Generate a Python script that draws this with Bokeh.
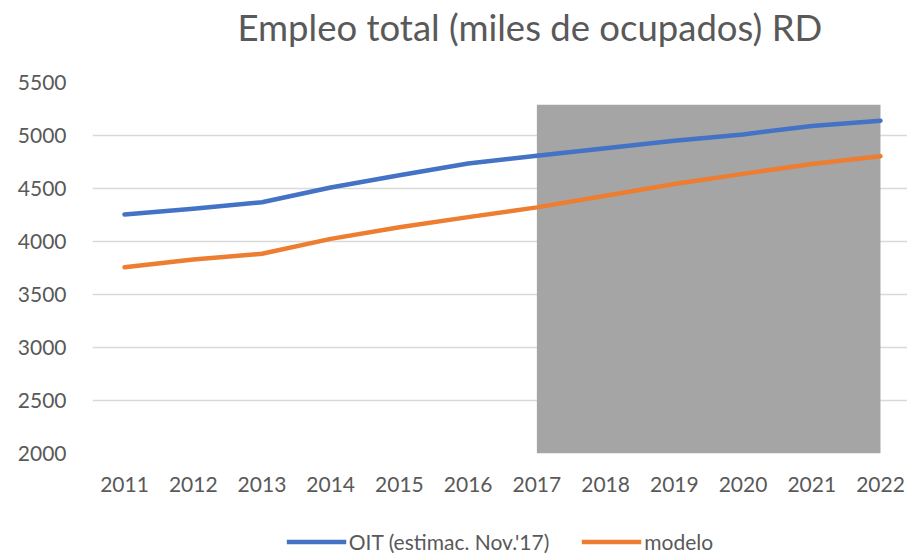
from bokeh.plotting import figure
from bokeh.layouts import column
from bokeh.models import Range1d, FixedTicker, Legend, LegendItem, Label
from bokeh.embed import file_html
from bokeh.resources import INLINE

years = [2011, 2012, 2013, 2014, 2015, 2016, 2017, 2018, 2019, 2020, 2021, 2022]
oit = [4255, 4310, 4370, 4510, 4625, 4735, 4810, 4880, 4950, 5010, 5090, 5140]
modelo = [3758, 3830, 3884, 4025, 4135, 4230, 4322, 4432, 4542, 4638, 4732, 4805]
y_ticks = [2000, 2500, 3000, 3500, 4000, 4500, 5000, 5500]
shade_start = 2017
shade_end = 2022
shade_top = 5290
y_min = 2000
y_max = 5500
title_text = "Empleo total (miles de ocupados) RD"

FONT = "Lato"
GREY_TXT = "#595959"
BLUE = "#4472C4"
ORANGE = "#ED7D31"
LEFT = 92
FW = 815


def strip(h, top_border, xr, yr):
    f = figure(frame_width=FW, frame_height=h, output_backend="svg", toolbar_location=None,
               title=None, x_range=xr, y_range=yr,
               x_axis_location=None, y_axis_location=None,
               min_border_left=LEFT, min_border_right=0, min_border_top=top_border,
               min_border_bottom=0)
    f.outline_line_color = None
    f.grid.visible = False
    f.background_fill_color = "white"
    f.border_fill_color = "white"
    return f


# title strip (x data units = pixels of the page)
top = strip(62, 0, Range1d(LEFT, LEFT + FW), Range1d(0, 62))
top.add_layout(Label(x=237, y=36, text=title_text,
                     text_font=FONT, text_font_size="36.5px", text_color=GREY_TXT,
                     text_baseline="alphabetic", text_align="left"))

# main chart
p = figure(frame_width=FW, frame_height=371, output_backend="svg", toolbar_location=None,
           title=None, x_range=Range1d(2010.534, 2022.393), y_range=Range1d(y_min, y_max),
           min_border_left=LEFT, min_border_right=0, min_border_top=20, min_border_bottom=57)
p.outline_line_color = None
p.background_fill_color = "white"
p.border_fill_color = "white"

p.quad(left=[shade_start], right=[shade_end], bottom=[y_min], top=[shade_top],
       fill_color="#A5A5A5", line_color=None)

p.line(years, oit, line_color=BLUE, line_width=4.5, line_cap="round", line_join="round")
p.line(years, modelo, line_color=ORANGE, line_width=4.5, line_cap="round", line_join="round")

p.xgrid.visible = False
p.ygrid.grid_line_color = "#D9D9D9"
p.ygrid.grid_line_width = 1.5
p.yaxis.ticker = FixedTicker(ticks=y_ticks)
p.xaxis.ticker = FixedTicker(ticks=years)
for ax in (p.xaxis[0], p.yaxis[0]):
    ax.axis_line_color = None
    ax.major_tick_line_color = None
    ax.minor_tick_line_color = None
    ax.major_label_text_font = FONT
    ax.major_label_text_font_size = "21px"
    ax.major_label_text_color = GREY_TXT
p.xaxis.major_label_standoff = 17
p.yaxis.major_label_standoff = 20

# legend strip below the chart
lg = strip(26, 18, Range1d(2010.534, 2022.393), Range1d(0, 1))
k1 = lg.line(years, oit, line_color=BLUE, line_width=4.5)
k2 = lg.line(years, modelo, line_color=ORANGE, line_width=4.5)

legend = Legend(items=[LegendItem(label="OIT (estimac. Nov.'17)", renderers=[k1]),
                       LegendItem(label="modelo", renderers=[k2])],
                orientation="horizontal", location="center",
                glyph_width=60, glyph_height=20, label_standoff=3, spacing=32,
                padding=0, margin=0, border_line_color=None, background_fill_alpha=0,
                label_text_font=FONT, label_text_font_size="21px", label_text_color=GREY_TXT)
lg.add_layout(legend, "center")

layout = column(top, p, lg, spacing=0)
open("out.html", "w").write(file_html(layout, INLINE))
